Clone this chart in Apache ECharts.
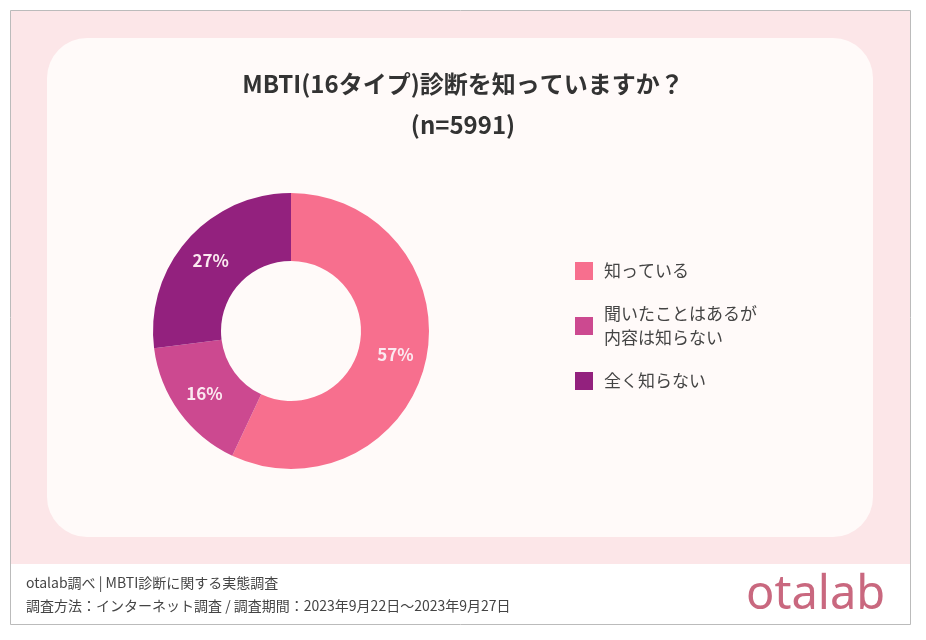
<!DOCTYPE html>
<html><head><meta charset="utf-8">
<script src="https://cdn.jsdelivr.net/npm/echarts@6/dist/echarts.min.js"></script>
<style>html,body{margin:0;padding:0;background:#fff}#c{width:926px;height:640px}</style>
</head><body><div id="c"></div>
<script>
const categories = ['知っている', '聞いたことはあるが\n内容は知らない', '全く知らない'];
const values = [57, 16, 27];
const colors = ['#f76f8e', '#cc4990', '#93217e'];
const F = '"Noto Sans CJK JP", sans-serif';
const chart = echarts.init(document.getElementById('c'));
chart.setOption({
  animation: false,
  graphic: [
    {type:'rect', z:-10, shape:{x:10.5,y:10.5,width:900,height:614}, style:{fill:'#fff', stroke:'#bbb', lineWidth:1}},
    {type:'rect', z:-9, shape:{x:11,y:11,width:899,height:553}, style:{fill:'#fce6e8'}},
    {type:'rect', z:-8, shape:{x:47,y:38,width:826,height:499,r:40}, style:{fill:'#fffaf9'}},
    {type:'text', left:26, top:576, style:{text:'otalab調べ | MBTI診断に関する実態調査', font:'14px '+F, fill:'#444'}},
    {type:'text', left:26, top:599, style:{text:'調査方法：インターネット調査 / 調査期間：2023年9月22日〜2023年9月27日', font:'14px '+F, fill:'#444'}},
    {type:'text', left:746, top:572, style:{text:'otalab', font:'47px "Noto Sans", sans-serif', fill:'#c9687f'}}
  ],
  title: {
    text: 'MBTI(16タイプ)診断を知っていますか？\n(n=5991)',
    left: 'center', top: 58,
    textStyle: {fontFamily: F, fontSize: 24, fontWeight: 'bold', color: '#333', lineHeight: 41}
  },
  legend: {
    orient: 'vertical', left: 570, top: 254, itemWidth: 18, itemHeight: 18, itemGap: 19,
    icon: 'rect', textStyle: {fontFamily: F, fontSize: 17, color: '#444', lineHeight: 24, padding: [0,0,0,6]},
    data: categories
  },
  series: [{
    type: 'pie', center: [291, 331], radius: [70, 138], startAngle: 90, clockwise: true,
    label: {position: 'inside', formatter: '{c}%', fontFamily: F, fontSize: 17, fontWeight: 'bold', color: '#fbe9f0'},
    labelLine: {show: false},
    data: categories.map((n, i) => ({name: n, value: values[i], itemStyle: {color: colors[i]}}))
  }]
});
</script></body></html>
